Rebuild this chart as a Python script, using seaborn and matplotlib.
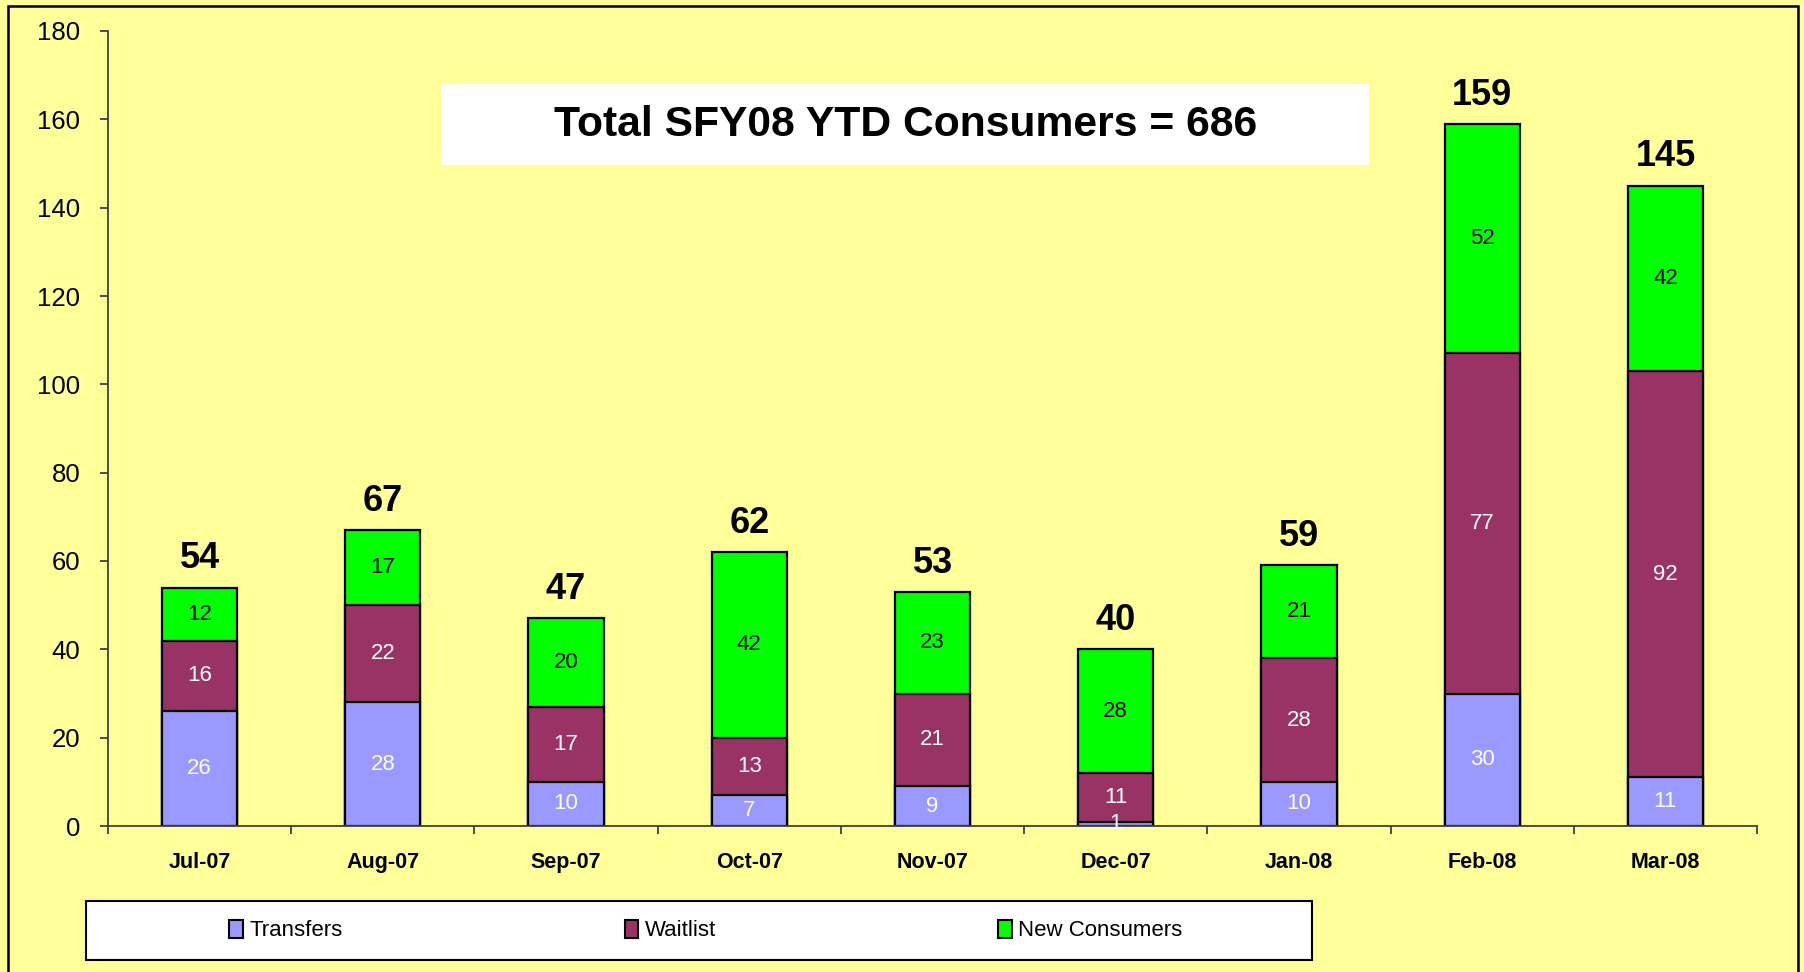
import matplotlib
matplotlib.use("Agg")
import matplotlib.pyplot as plt
import seaborn as sns
import pandas as pd
import numpy as np
from matplotlib.patches import Rectangle, Patch

# ---- data ----
months = ["Jul-07", "Aug-07", "Sep-07", "Oct-07", "Nov-07", "Dec-07", "Jan-08", "Feb-08", "Mar-08"]
transfers = [26, 28, 10, 7, 9, 1, 10, 30, 11]
waitlist = [16, 22, 17, 13, 21, 11, 28, 77, 92]
new_consumers = [12, 17, 20, 42, 23, 28, 21, 52, 42]
series_names = ["Transfers", "Waitlist", "New Consumers"]
title_text = "Total SFY08 YTD Consumers = 686"
y_ticks = list(range(0, 181, 20))

# ---- style ----
sns.set_theme(style="white")
plt.rcParams["font.family"] = ["Liberation Sans", "DejaVu Sans"]
plt.rcParams["text.color"] = "black"
plt.rcParams["xtick.labelcolor"] = "black"
plt.rcParams["ytick.labelcolor"] = "black"

BG = "#FFFF99"
C_TR = "#9999FF"
C_WL = "#993366"
C_NC = "#00FF00"

df = pd.DataFrame({"month": months, "Transfers": transfers,
                   "Waitlist": waitlist, "New Consumers": new_consumers})
df["lvl1"] = df["Transfers"]
df["lvl2"] = df["Transfers"] + df["Waitlist"]
df["lvl3"] = df["lvl2"] + df["New Consumers"]

fig = plt.figure(figsize=(18.04, 9.72), dpi=100, facecolor=BG)
ax = fig.add_axes([108 / 1804, 146 / 972, 1649 / 1804, 795 / 972])
ax.set_facecolor(BG)

for col, c in [("lvl3", C_NC), ("lvl2", C_WL), ("lvl1", C_TR)]:
    sns.barplot(data=df, x="month", y=col, color=c, width=0.41, saturation=1,
                edgecolor="black", linewidth=1.6, ax=ax)

# segment labels
for i in range(len(months)):
    t, w, n = transfers[i], waitlist[i], new_consumers[i]
    ax.text(i, t / 2, str(t), ha="center", va="center", color="white", fontsize=16)
    ax.text(i, t + w / 2, str(w), ha="center", va="center", color="white", fontsize=16)
    ax.text(i, t + w + n / 2, str(n), ha="center", va="center", color="black", fontsize=16)
    tot = t + w + n
    ax.annotate(str(tot), (i, tot), xytext=(0, 8), textcoords="offset points",
                ha="center", va="bottom", fontsize=26, fontweight="bold", color="black")

ax.set_xlim(-0.5, len(months) - 0.5)
ax.set_ylim(0, 180)
ax.set_yticks(y_ticks)
ax.set_xlabel("")
ax.set_ylabel("")
sns.despine(ax=ax)
for s in ["left", "bottom"]:
    ax.spines[s].set_color("#404040")
    ax.spines[s].set_linewidth(1.3)

ax.set_xticks(range(len(months)))
ax.set_xticklabels(months, fontweight="bold", fontsize=15.5, color="black")
ax.set_xticks(np.arange(-0.5, len(months), 1.0), minor=True)
ax.tick_params(axis="x", which="major", length=0, pad=19, bottom=True)
ax.tick_params(axis="x", which="minor", length=6, width=1.3, color="#404040",
               direction="out", bottom=True)
ax.tick_params(axis="y", length=6, width=1.3, color="#404040", direction="out",
               pad=14, labelsize=18.5, left=True)

# title box
ax.add_patch(Rectangle((0.202, 0.831), 0.563, 0.102, transform=ax.transAxes,
                       facecolor="white", edgecolor="none", zorder=5))
ax.text(0.4835, 0.882, title_text, transform=ax.transAxes, ha="center", va="center",
        fontsize=30.7, fontweight="bold", color="black", zorder=6)

# legend box
fig.patches.append(Rectangle((86 / 1804, 12 / 972), 1226 / 1804, 59 / 972,
                             transform=fig.transFigure, facecolor="white",
                             edgecolor="black", linewidth=1.5))
handles = [Patch(facecolor=c, edgecolor="black", linewidth=1.5, label=l)
           for c, l in zip([C_TR, C_WL, C_NC], series_names)]
fig.legend(handles=handles, loc="center", bbox_to_anchor=(706 / 1804, 41.5 / 972),
           ncol=3, frameon=False, fontsize=16, handlelength=0.6, handleheight=0.9,
           handletextpad=0.3, columnspacing=12.7, labelcolor="black")

# outer border
fig.patches.append(Rectangle((8 / 1804, -0.02), 1790 / 1804, 966 / 972 + 0.02,
                             transform=fig.transFigure, fill=False,
                             edgecolor="black", linewidth=1.8))

fig.savefig("out.png", dpi=100, facecolor=BG)
